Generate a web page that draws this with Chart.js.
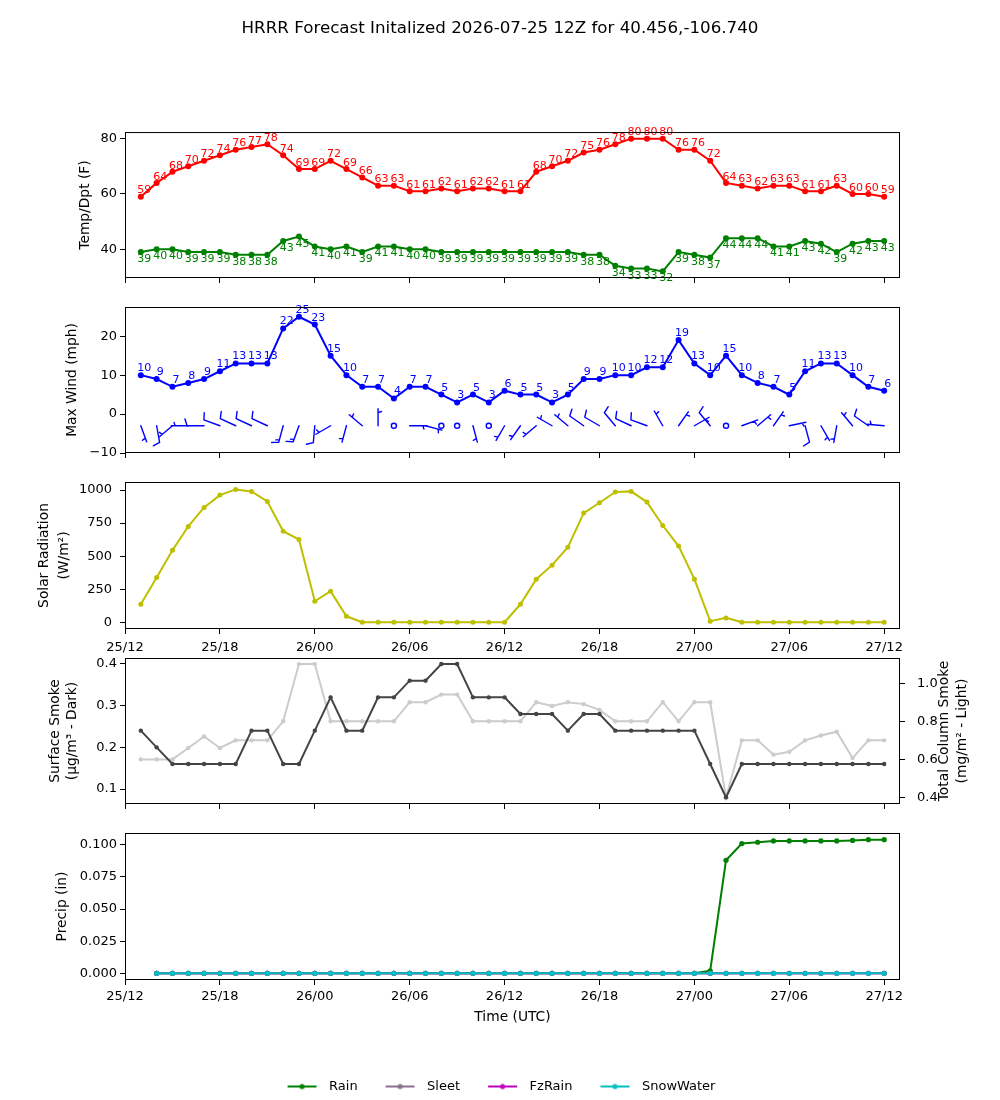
<!DOCTYPE html>
<html>
<head>
<meta charset="utf-8">
<title>HRRR Forecast</title>
<script src="https://cdn.jsdelivr.net/npm/chart.js@4.4.1/dist/chart.umd.min.js"></script>
<style>
    body { margin: 0; background: #fff; width: 1000px; height: 1100px; overflow: hidden; position: relative; }
    .panel { position: absolute; left: 0; }
</style>
</head>
<body>
<div class="panel" style="top:0px"><canvas id="tempChart" width="1000" height="303"></canvas></div>
<div class="panel" style="top:282px"><canvas id="windChart" width="1000" height="196"></canvas></div>
<div class="panel" style="top:457px"><canvas id="solarChart" width="1000" height="202"></canvas></div>
<div class="panel" style="top:633px"><canvas id="smokeChart" width="1000" height="196"></canvas></div>
<div class="panel" style="top:808px"><canvas id="precipChart" width="1000" height="295"></canvas></div>

<script>
// Forecast hours after 25/12 UTC
const hours = [1, 2, 3, 4, 5, 6, 7, 8, 9, 10, 11, 12, 13, 14, 15, 16, 17, 18, 19, 20, 21, 22, 23, 24,
    25, 26, 27, 28, 29, 30, 31, 32, 33, 34, 35, 36, 37, 38, 39, 40, 41, 42, 43, 44, 45, 46, 47, 48];
const timeTicks = [0, 6, 12, 18, 24, 30, 36, 42, 48];
const timeTickLabels = ['25/12', '25/18', '26/00', '26/06', '26/12', '26/18', '27/00', '27/06', '27/12'];

const temp = [59, 64, 68, 70, 72, 74, 76, 77, 78, 74, 69, 69, 72, 69, 66, 63, 63, 61, 61, 62, 61, 62, 62, 61,
    61, 68, 70, 72, 75, 76, 78, 80, 80, 80, 76, 76, 72, 64, 63, 62, 63, 63, 61, 61, 63, 60, 60, 59];
const dewpoint = [39, 40, 40, 39, 39, 39, 38, 38, 38, 43, 44.6, 41, 40, 41, 39, 41, 41, 40, 40, 39, 39, 39, 39, 39,
    39, 39, 39, 39, 38, 38, 34, 33, 33, 32, 39, 38, 37, 44, 44, 44, 41, 41, 43, 42, 39, 42, 43, 43];

const maxWind = [10, 9, 7, 8, 9, 11, 13, 13, 13, 22, 25, 23, 15, 10, 7, 7, 4, 7, 7, 5, 3, 5, 3, 6,
    5, 5, 3, 5, 9, 9, 10, 10, 12, 12, 19, 13, 10, 15, 10, 8, 7, 5, 11, 13, 13, 10, 7, 6];
// wind barbs: direction the wind blows from (deg) and speed (kt)
const barbDir = [160, 170, 230, 270, 270, 290, 295, 295, 295, 195, 200, 185, 240, 195, 310, 0, 0, 90, 105, 0, 0, 165, 0, 210,
    215, 230, 300, 310, 305, 300, 320, 295, 290, 330, 35, 60, 320, 0, 70, 50, 35, 78, 165, 150, 190, 320, 305, 275];
const barbSpeed = [5, 10, 5, 5, 10, 10, 10, 10, 10, 15, 15, 10, 5, 5, 5, 5, 0, 5, 5, 0, 0, 5, 0, 5,
    5, 5, 5, 5, 10, 10, 10, 10, 10, 5, 5, 5, 10, 0, 5, 5, 5, 5, 10, 5, 5, 5, 10, 5];

const solar = [136, 338, 545, 725, 869, 962, 1005, 990, 914, 689, 626, 159, 235, 45, 0, 0, 0, 0, 0, 0, 0, 0, 0, 0,
    136, 326, 432, 568, 826, 904, 985, 990, 909, 732, 576, 326, 8, 33, 0, 0, 0, 0, 0, 0, 0, 0, 0, 0];

const surfaceSmoke = [0.24, 0.20, 0.16, 0.16, 0.16, 0.16, 0.16, 0.24, 0.24, 0.16, 0.16, 0.24, 0.32, 0.24, 0.24, 0.32,
    0.32, 0.36, 0.36, 0.40, 0.40, 0.32, 0.32, 0.32, 0.28, 0.28, 0.28, 0.24, 0.28, 0.28, 0.24, 0.24,
    0.24, 0.24, 0.24, 0.24, 0.16, 0.08, 0.16, 0.16, 0.16, 0.16, 0.16, 0.16, 0.16, 0.16, 0.16, 0.16];
const columnSmoke = [0.60, 0.60, 0.60, 0.66, 0.72, 0.66, 0.70, 0.70, 0.70, 0.80, 1.10, 1.10, 0.80, 0.80, 0.80, 0.80,
    0.80, 0.90, 0.90, 0.94, 0.94, 0.80, 0.80, 0.80, 0.80, 0.90, 0.88, 0.90, 0.89, 0.86, 0.80, 0.80,
    0.80, 0.90, 0.80, 0.90, 0.90, 0.40, 0.70, 0.70, 0.625, 0.64, 0.70, 0.725, 0.745, 0.607, 0.70, 0.70];

// precip starts one hour later (hour 2)
const rain = [0, 0, 0, 0, 0, 0, 0, 0, 0, 0, 0, 0, 0, 0, 0, 0, 0, 0, 0, 0, 0, 0, 0, 0, 0, 0, 0, 0, 0, 0, 0, 0, 0, 0, 0,
    0.002, 0.088, 0.101, 0.102, 0.103, 0.103, 0.103, 0.103, 0.103, 0.1034, 0.104, 0.104];
const sleet = [0, 0, 0, 0, 0, 0, 0, 0, 0, 0, 0, 0, 0, 0, 0, 0, 0, 0, 0, 0, 0, 0, 0, 0, 0, 0, 0, 0, 0, 0, 0, 0, 0, 0, 0,
    0, 0, 0, 0, 0, 0, 0, 0, 0, 0, 0, 0];
const fzRain = [0, 0, 0, 0, 0, 0, 0, 0, 0, 0, 0, 0, 0, 0, 0, 0, 0, 0, 0, 0, 0, 0, 0, 0, 0, 0, 0, 0, 0, 0, 0, 0, 0, 0, 0,
    0, 0, 0, 0, 0, 0, 0, 0, 0, 0, 0, 0];
const snowWater = [0, 0, 0, 0, 0, 0, 0, 0, 0, 0, 0, 0, 0, 0, 0, 0, 0, 0, 0, 0, 0, 0, 0, 0, 0, 0, 0, 0, 0, 0, 0, 0, 0, 0, 0,
    0, 0, 0, 0, 0, 0, 0, 0, 0, 0, 0, 0];
const precipNames = ['Rain', 'Sleet', 'FzRain', 'SnowWater'];
const precipColors = ['#008000', '#8b6f8e', '#bf00bf', '#00bfbf'];

Chart.defaults.font.family = '"DejaVu Sans", sans-serif';
Chart.defaults.font.size = 13;
Chart.defaults.color = '#000';

// Pair values with their hour, offset lets the precip arrays start later
function series(values, offset) {
    offset = offset || 0;
    return values.map((v, i) => ({ x: hours[i + offset], y: v }));
}

function line(label, values, color, radius, extra) {
    return Object.assign({
        label: label,
        data: values,
        borderColor: color,
        backgroundColor: color,
        pointBackgroundColor: color,
        borderWidth: 2,
        pointRadius: radius,
        pointBorderWidth: 0,
        tension: 0
    }, extra || {});
}

function timeAxis(showLabels, height, title, labelPad) {
    return {
        type: 'linear',
        min: 0,
        max: 49,
        afterBuildTicks: axis => { axis.ticks = timeTicks.map(v => ({ value: v })); },
        afterFit: axis => { axis.height = height; },
        ticks: {
            display: showLabels, padding: labelPad || 4, maxRotation: 0, autoSkip: false,
            callback: v => timeTickLabels[timeTicks.indexOf(v)]
        },
        grid: { drawOnChartArea: false, color: '#000', tickLength: 5 },
        border: { display: false },
        title: title ? {
            display: true, text: title, font: { size: 13.8 }, padding: { top: 0, bottom: 29 }
        } : { display: false }
    };
}

function valueAxis(min, max, ticks, fmt, title, titlePad, labelPad, lineHeight) {
    return {
        type: 'linear',
        position: 'left',
        min: min,
        max: max,
        afterBuildTicks: axis => { axis.ticks = ticks.map(v => ({ value: v })); },
        afterFit: axis => { axis.width = 125; },
        ticks: { padding: labelPad, callback: fmt },
        grid: { drawOnChartArea: false, color: '#000', tickLength: 5 },
        border: { display: false },
        title: {
            display: true, text: title, padding: { top: titlePad, bottom: 0 },
            font: { size: 13.8, lineHeight: lineHeight || 1.2 }
        }
    };
}

// empty right axis that keeps 100px free so every panel lines up
const spacerAxis = {
    position: 'right', display: true,
    ticks: { display: false }, grid: { display: false }, border: { display: false },
    afterFit: axis => { axis.width = 100; }
};

function baseOptions(scales, plugins, topPad) {
    return {
        responsive: false,
        animation: false,
        devicePixelRatio: 1,
        layout: { padding: { top: topPad, left: 0, right: 0, bottom: 0 } },
        scales: scales,
        plugins: Object.assign({ legend: { display: false }, tooltip: { enabled: false } }, plugins || {})
    };
}

// Box around the plotting area, like matplotlib spines
const frame = {
    id: 'frame',
    afterDraw(chart) {
        const a = chart.chartArea;
        const ctx = chart.ctx;
        ctx.save();
        ctx.strokeStyle = '#000';
        ctx.lineWidth = 1;
        ctx.strokeRect(a.left + 0.5, a.top + 0.5, a.right - a.left - 1, a.bottom - a.top - 1);
        ctx.restore();
    }
};

// Numbers written next to each point (labelOffset on the dataset)
const pointLabels = {
    id: 'pointLabels',
    afterDatasetsDraw(chart) {
        const ctx = chart.ctx;
        chart.data.datasets.forEach((ds, i) => {
            if (ds.labelOffset === undefined) return;
            const meta = chart.getDatasetMeta(i);
            ctx.save();
            ctx.font = '11px "DejaVu Sans"';
            ctx.fillStyle = ds.borderColor;
            ctx.textAlign = 'center';
            ctx.textBaseline = 'alphabetic';
            meta.data.forEach((pt, j) => {
                ctx.fillText(String(Math.round(ds.data[j].y)), pt.x + 3.5, pt.y + ds.labelOffset);
            });
            ctx.restore();
        });
    }
};

// One wind barb: staff points to where the wind comes from
function drawBarb(ctx, x, y, dir, kts) {
    const len = 17;
    if (kts < 2.5) {
        ctx.beginPath();
        ctx.arc(x, y, 0.15 * len, 0, Math.PI * 2);
        ctx.stroke();
        return;
    }
    const rad = dir * Math.PI / 180;
    const dx = Math.sin(rad), dy = -Math.cos(rad);
    const px = Math.cos(rad), py = Math.sin(rad);
    const ex = x + len * dx, ey = y + len * dy;
    const h = 0.4 * len, w = 0.25 * len, sp = 0.15 * len;
    ctx.beginPath();
    ctx.moveTo(x, y);
    ctx.lineTo(ex, ey);
    let full = Math.floor(kts / 10);
    let half = kts % 10 >= 5;
    let off = 0;
    for (let k = 0; k < full; k++) {
        const qx = ex - off * dx, qy = ey - off * dy;
        ctx.moveTo(qx, qy);
        ctx.lineTo(qx + h * px + w / 2 * dx, qy + h * py + w / 2 * dy);
        off += sp;
    }
    if (half) {
        if (full == 0) off = 1.5 * sp;
        const qx = ex - off * dx, qy = ey - off * dy;
        ctx.moveTo(qx, qy);
        ctx.lineTo(qx + h / 2 * px + w / 4 * dx, qy + h / 2 * py + w / 4 * dy);
    }
    ctx.stroke();
}

const windBarbs = {
    id: 'windBarbs',
    afterDatasetsDraw(chart) {
        const ctx = chart.ctx;
        const xs = chart.scales.x, ys = chart.scales.y;
        ctx.save();
        ctx.strokeStyle = '#0000ff';
        ctx.lineWidth = 1.4;
        ctx.lineCap = 'round';
        hours.forEach((h, i) => {
            drawBarb(ctx, xs.getPixelForValue(h), ys.getPixelForValue(-3), barbDir[i], barbSpeed[i]);
        });
        ctx.restore();
    }
};

// matplotlib style right label reads bottom to top
const rightTitle = {
    id: 'rightTitle',
    afterDraw(chart) {
        const ctx = chart.ctx;
        const mid = (chart.chartArea.top + chart.chartArea.bottom) / 2;
        ctx.save();
        ctx.font = '13.8px "DejaVu Sans"';
        ctx.fillStyle = '#000';
        ctx.textAlign = 'center';
        ctx.textBaseline = 'middle';
        [['Total Column Smoke', 944], ['(mg/m² - Light)', 962]].forEach(t => {
            ctx.save();
            ctx.translate(t[1], mid);
            ctx.rotate(-Math.PI / 2);
            ctx.fillText(t[0], 0, 0);
            ctx.restore();
        });
        ctx.restore();
    }
};

// Legend sample: short line with a dot in the middle
function legendIcon(color) {
    const c = document.createElement('canvas');
    c.width = 38;
    c.height = 10;
    const g = c.getContext('2d');
    g.strokeStyle = color;
    g.lineWidth = 2;
    g.beginPath();
    g.moveTo(3, 5);
    g.lineTo(32, 5);
    g.stroke();
    g.fillStyle = color;
    g.beginPath();
    g.arc(17.5, 5, 2.6, 0, Math.PI * 2);
    g.fill();
    return c;
}

const fmtInt = v => String(v).replace('-', '\u2212');

document.addEventListener('DOMContentLoaded', function() {
    // Temperature and dewpoint
    new Chart(document.getElementById('tempChart'), {
        type: 'line',
        data: {
            datasets: [
                line('Temp', series(temp), '#ff0000', 3, { labelOffset: -3.3 }),
                line('Dewpoint', series(dewpoint), '#008000', 3, { labelOffset: 10 })
            ]
        },
        options: baseOptions({
            x: timeAxis(false, 25),
            y: valueAxis(29.6, 82.4, [40, 60, 80], fmtInt, 'Temp/Dpt (F)', 76.7, 3),
            yr: spacerAxis
        }, {
            title: {
                display: true,
                text: 'HRRR Forecast Initalized 2026-07-25 12Z for 40.456,-106.740',
                font: { size: 16.7, weight: 'normal' },
                color: '#000',
                padding: { top: 19, bottom: 93 }
            }
        }, 0),
        plugins: [pointLabels, frame]
    });

    // Max wind with barbs
    new Chart(document.getElementById('windChart'), {
        type: 'line',
        data: {
            datasets: [line('Max Wind', series(maxWind), '#0000ff', 3, { labelOffset: -4 })]
        },
        options: baseOptions({
            x: timeAxis(false, 25),
            y: valueAxis(-10, 27.5, [-10, 0, 10, 20], fmtInt, 'Max Wind (mph)', 63.7, 3),
            yr: spacerAxis
        }, null, 25),
        plugins: [windBarbs, pointLabels, frame]
    });

    // Solar radiation
    new Chart(document.getElementById('solarChart'), {
        type: 'line',
        data: {
            datasets: [line('Solar', series(solar), '#bfbf00', 2.5)]
        },
        options: baseOptions({
            x: timeAxis(true, 30, null, 6),
            y: valueAxis(-51, 1061, [0, 250, 500, 750, 1000], fmtInt, ['Solar Radiation', '(W/m²)'], 34, 8, 1.45),
            yr: spacerAxis
        }, null, 25),
        plugins: [frame]
    });

    // Smoke, surface on the left axis and column on the right
    new Chart(document.getElementById('smokeChart'), {
        type: 'line',
        data: {
            datasets: [
                line('Surface Smoke', series(surfaceSmoke), '#444444', 2.2, { yAxisID: 'y', order: 1 }),
                line('Column Smoke', series(columnSmoke), '#cccccc', 2.2, { yAxisID: 'yr', order: 2 })
            ]
        },
        options: baseOptions({
            x: timeAxis(false, 25),
            y: valueAxis(0.064, 0.4144, [0.1, 0.2, 0.3, 0.4], v => v.toFixed(1),
                ['Surface Smoke', '(μg/m³ - Dark)'], 47.2, 3, 1.2),
            yr: {
                type: 'linear',
                position: 'right',
                min: 0.366,
                max: 1.132,
                afterBuildTicks: axis => { axis.ticks = [0.4, 0.6, 0.8, 1.0].map(v => ({ value: v })); },
                afterFit: axis => { axis.width = 100; },
                ticks: { padding: 12, callback: v => v.toFixed(1) },
                grid: { drawOnChartArea: false, color: '#000', tickLength: 5 },
                border: { display: false }
            }
        }, null, 25),
        plugins: [frame, rightTitle]
    });

    // Accumulated precipitation with legend
    new Chart(document.getElementById('precipChart'), {
        type: 'line',
        data: {
            datasets: [
                line('Rain', series(rain, 1), precipColors[0], 2.6, { order: 4 }),
                line('Sleet', series(sleet, 1), precipColors[1], 2.6, { order: 3 }),
                line('FzRain', series(fzRain, 1), precipColors[2], 2.6, { order: 2 }),
                line('SnowWater', series(snowWater, 1), precipColors[3], 2.6, { order: 1 })
            ]
        },
        options: baseOptions({
            x: timeAxis(true, 75, 'Time (UTC)'),
            y: valueAxis(-0.0052, 0.1092, [0, 0.025, 0.05, 0.075, 0.1], v => v.toFixed(3), 'Precip (in)', 53.7, 3),
            yr: spacerAxis
        }, {
            legend: {
                display: true,
                position: 'bottom',
                labels: {
                    usePointStyle: true,
                    pointStyleWidth: 38,
                    padding: 25,
                    font: { size: 13 },
                    color: '#000',
                    generateLabels: () => precipNames.map((name, k) => ({
                        text: name,
                        pointStyle: legendIcon(precipColors[k]),
                        fillStyle: precipColors[k],
                        strokeStyle: precipColors[k],
                        lineWidth: 0,
                        hidden: false,
                        datasetIndex: k
                    }))
                }
            }
        }, 25),
        plugins: [frame]
    });
});
</script>
</body>
</html>
